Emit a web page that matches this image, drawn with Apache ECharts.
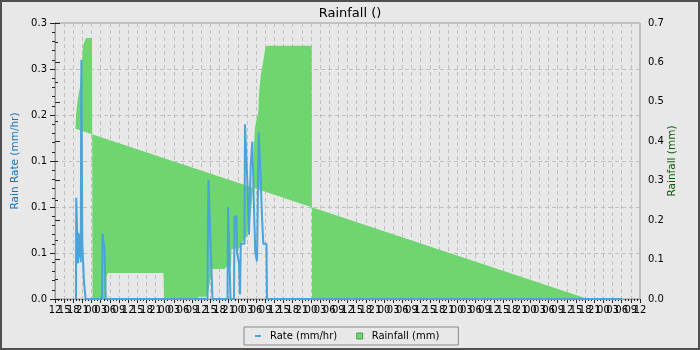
<!DOCTYPE html>
<html>
<head>
<meta charset="utf-8">
<script src="https://cdn.jsdelivr.net/npm/echarts@6/dist/echarts.min.js"></script>
<style>
html,body{margin:0;padding:0;background:#e8e8e8;}
#chart{width:700px;height:350px;}
</style>
</head>
<body>
<div id="chart"></div>
<script>
// Hours after the first 12:00 tick (x axis spans 192 h, one label every 3 h)
const xTickCycle = ['12','15','18','21','00','03','06','09'];
const leftTickLabels = ['0.0','0.1','0.1','0.1','0.2','0.3','0.3'];
const rightTickLabels = ['0.0','0.1','0.2','0.3','0.4','0.5','0.6','0.7'];

// Rain rate (mm/hr)
const rateHours = [6.89,6.96,7.32,7.55,7.71,8.04,8.30,8.47,8.57,8.66,8.86,8.96,9.29,9.52,9.95,10.05,
  15.43,15.59,16.08,16.25,16.51,16.64,
  50.05,50.22,50.38,50.87,51.04,51.53,51.69,
  56.62,56.79,57.44,57.60,58.75,58.91,59.57,59.74,60.39,60.72,60.98,62.19,62.36,62.85,63.11,63.67,64.23,64.75,65.21,65.74,66.30,66.85,67.38,67.94,68.36,69.41,69.58,
  186.09];
const rateValues = [0,0.11,0.11,0.039,0.072,0.045,0.07,0.04,0.2,0.26,0.26,0.061,0.061,0.018,0.018,0,
  0,0.071,0.071,0.054,0.054,0,
  0,0.09,0.129,0.129,0.061,0.061,0,
  0,0.1,0.1,0,0,0.09,0.09,0.05,0.039,0.005,0.06,0.06,0.19,0.19,0.129,0.07,0.144,0.171,0.111,0.05,0.041,0.181,0.142,0.09,0.06,0.06,0,
  0];

// Rainfall (mm)
const rainHours = [6.73,6.89,7.22,7.55,7.88,8.21,8.53,8.86,9.19,9.68,10.17,12.14,12.31,16.74,16.90,17.39,35.61,35.77,
  46.93,47.10,50.05,51.53,55.79,55.96,57.76,57.93,60.72,61.05,63.02,64.00,64.98,65.31,65.64,66.20,66.72,66.95,67.28,67.61,68.04,68.36,68.69,69.02,69.48,84.25,84.35,174.93];
const rainValues = [0.432,0.465,0.49,0.51,0.525,0.538,0.57,0.60,0.642,0.653,0.662,0.662,0,0,0.056,0.066,0.066,0,
  0,0.006,0.006,0.076,0.076,0.081,0.081,0.126,0.13,0.14,0.159,0.2,0.275,0.394,0.435,0.457,0.473,0.52,0.548,0.571,0.589,0.604,0.619,0.637,0.642,0.642,0,0];

const rateData = rateHours.map((h, i) => [h, rateValues[i]]);
const rainData = rainHours.map((h, i) => [h, rainValues[i]]);

const FONT = 'DejaVu Sans';
const BLUE = '#4aa3db';
const GREEN = '#6fd66f';
const GRIDLINE = {show: true, lineStyle: {color: '#c0c0c0', type: [4, 3], width: 1}};

// label for an x tick; parity 0 = even ticks, 1 = odd ticks (split over two axes so none get hidden)
function xLabel(v, parity) {
  const k = Math.round(v / 3);
  return (k % 2 === parity) ? xTickCycle[k % 8] : '';
}

const chart = echarts.init(document.getElementById('chart'), null, {renderer: 'canvas'});
chart.setOption({
  animation: false,
  backgroundColor: '#e8e8e8',
  textStyle: {fontFamily: FONT},
  title: {
    text: 'Rainfall ()', left: 'center', top: 2,
    textStyle: {fontFamily: FONT, fontSize: 13, fontWeight: 'normal', color: '#000'}
  },
  graphic: [{
    type: 'rect', silent: true, z: 100,
    shape: {x: 0, y: 0, width: 700, height: 350},
    style: {fill: 'none', stroke: '#505050', lineWidth: 4}
  }],
  legend: {
    left: 244, top: 327,
    padding: [4, 19, 4, 11],
    itemGap: 19,
    itemWidth: 6, itemHeight: 6,
    borderColor: '#888', borderWidth: 1,
    backgroundColor: '#e8e8e8',
    textStyle: {fontFamily: FONT, fontSize: 10, color: '#000', padding: [0, 0, 0, 4]},
    data: [
      {name: 'Rate (mm/hr)', icon: 'path://M0,0H6V2H0Z', itemStyle: {color: BLUE}},
      {name: 'Rainfall (mm)', icon: 'rect', itemStyle: {color: GREEN, borderColor: '#4e9e4e', borderWidth: 1}}
    ]
  },
  grid: {
    left: 55, right: 60, top: 23, bottom: 51,
    outerBoundsMode: 'none',
    containLabel: false,
    show: true, backgroundColor: '#e8e8e8', borderColor: '#999', borderWidth: 1
  },
  xAxis: [{
    type: 'value', min: 0, max: 192, interval: 3, position: 'bottom',
    axisLine: {lineStyle: {color: '#999'}},
    axisTick: {show: true, length: 4, lineStyle: {color: '#222'}},
    minorTick: {show: true, splitNumber: 3, length: 2, lineStyle: {color: '#222'}},
    splitLine: GRIDLINE,
    axisLabel: {
      fontFamily: FONT, fontSize: 10, color: '#000', margin: 6,
      showMinLabel: true, showMaxLabel: true,
      formatter: v => xLabel(v, 0)
    }
  }, {
    type: 'value', min: 0, max: 192, interval: 3, position: 'bottom', offset: 0,
    axisLine: {show: false},
    axisTick: {show: false},
    minorTick: {show: false},
    splitLine: {show: false},
    axisLabel: {
      fontFamily: FONT, fontSize: 10, color: '#000', margin: 6,
      showMinLabel: true, showMaxLabel: true,
      formatter: v => xLabel(v, 1)
    }
  }],
  yAxis: [{
    type: 'value', min: 0, max: 0.3, interval: 0.05, position: 'left',
    name: 'Rain Rate (mm/hr)', nameLocation: 'middle', nameGap: 34, nameMoveOverlap: false,
    nameTextStyle: {fontFamily: FONT, fontSize: 10.5, color: '#1f72b0'},
    axisLine: {show: true, lineStyle: {color: '#999'}},
    axisTick: {show: true, length: 5, lineStyle: {color: '#222'}},
    minorTick: {show: true, splitNumber: 5, length: 3, lineStyle: {color: '#222'}},
    splitLine: GRIDLINE,
    axisLabel: {
      fontFamily: FONT, fontSize: 10, color: '#000', margin: 8,
      formatter: v => leftTickLabels[Math.round(v / 0.05)]
    }
  }, {
    type: 'value', min: 0, max: 0.7, interval: 0.1, position: 'right',
    name: 'Rainfall (mm)', nameLocation: 'middle', nameGap: 27, nameMoveOverlap: false,
    nameTextStyle: {fontFamily: FONT, fontSize: 10.5, color: '#0b5a0b'},
    axisLine: {show: true, lineStyle: {color: '#999'}},
    axisTick: {show: true, length: 5, lineStyle: {color: '#222'}},
    minorTick: {show: true, splitNumber: 2, length: 3, lineStyle: {color: '#222'}},
    splitLine: {show: false},
    axisLabel: {
      fontFamily: FONT, fontSize: 10, color: '#000', margin: 8,
      formatter: v => rightTickLabels[Math.round(v / 0.1)]
    }
  }],
  series: [{
    name: 'Rainfall (mm)',
    type: 'custom',
    xAxisIndex: 0,
    yAxisIndex: 1,
    clip: true,
    z: 1,
    itemStyle: {color: GREEN},
    data: rainData,
    renderItem: function (params, api) {
      if (params.dataIndex !== 0) return null;
      const pts = rainData.map(p => api.coord(p));
      return {type: 'polygon', shape: {points: pts}, style: {fill: GREEN, stroke: null}};
    }
  }, {
    name: 'Rate (mm/hr)',
    type: 'line',
    xAxisIndex: 0,
    yAxisIndex: 0,
    z: 3,
    showSymbol: false,
    clip: true,
    color: BLUE,
    lineStyle: {color: BLUE, width: 2},
    data: rateData
  }]
});
</script>
</body>
</html>
